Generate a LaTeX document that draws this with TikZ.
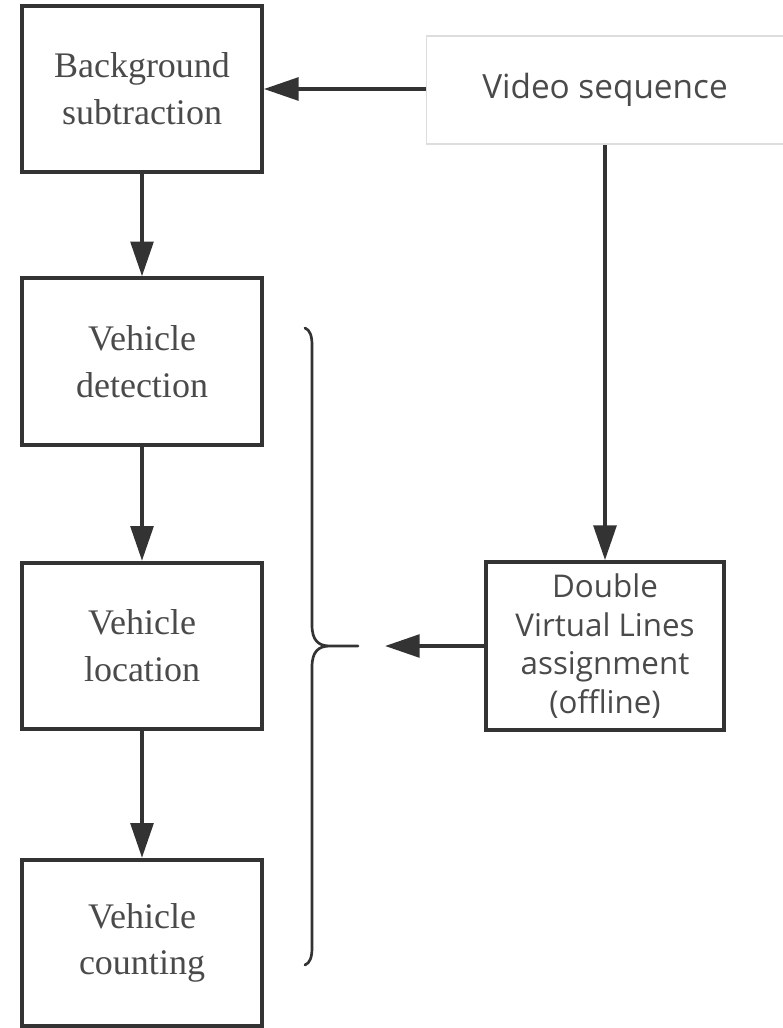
\documentclass[tikz,border=0pt]{standalone}
\usepackage{fontspec}
\setmainfont{Liberation Serif}
\newfontfamily\sansfam{Open Sans}
\usetikzlibrary{arrows.meta}
\definecolor{linec}{HTML}{333333}
\definecolor{textc}{HTML}{4A4A4A}
\definecolor{lightb}{HTML}{DDDDDD}
\begin{document}
\begin{tikzpicture}[x=0.75pt,y=-0.75pt,
  leftbox/.style={draw=linec,line width=2.8pt,minimum width=180pt,minimum height=125pt,inner sep=0pt,
    align=center,text=textc,font=\fontsize{27}{35}\selectfont},
  rightbox/.style={draw=linec,line width=2.8pt,inner sep=0pt,align=center,text=textc,
    font=\sansfam\fontsize{23.5}{29}\selectfont},
  conn/.style={draw=linec,line width=2.8pt,-{Triangle[width=17pt,length=26pt]}}]
\useasboundingbox (0,0) rectangle (782,1028);
\node[leftbox] (bg) at (142,89) {Background\\subtraction};
\node[leftbox] (det) at (142,361.5) {Vehicle\\detection};
\node[leftbox] (loc) at (142,646) {Vehicle\\location};
\node[leftbox] (cnt) at (142,943) {Vehicle\\counting};
\node[draw=lightb,line width=0.8pt,minimum width=268pt,minimum height=81pt,inner sep=0pt,
  text=textc,font=\sansfam\fontsize{25}{30}\selectfont] (vid) at (605,90) {Video sequence};
\node[rightbox,minimum width=179pt,minimum height=126pt] (dvl) at (605,646) {Double\\Virtual Lines\\assignment\\(offline)};
\coordinate (btip) at (385,646);
\coordinate (vbot) at (605,145);
\coordinate (vwest) at (426,89);
\draw[conn] (vwest) -- (bg.east);
\draw[conn] (bg.south) -- (det.north);
\draw[conn] (det.south) -- (loc.north);
\draw[conn] (loc.south) -- (cnt.north);
\draw[conn] (vbot) -- (dvl.north);
\draw[conn] (dvl.west) -- (btip);
\draw[linec,line width=2pt,line cap=round]
  (305,328) .. controls (310,330) and (312,336) .. (312,345)
  -- (312,625) .. controls (312,640) and (318,646) .. (330,646) -- (358,646)
  (330,646) .. controls (318,646) and (312,652) .. (312,667)
  -- (312,948) .. controls (312,957) and (310,963) .. (305,965);
\end{tikzpicture}
\end{document}
